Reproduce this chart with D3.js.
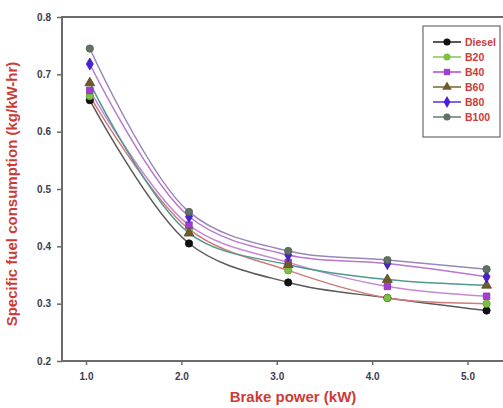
<!doctype html>
<html lang="en">
<head>
  <meta charset="utf-8">
  <title>Specific fuel consumption</title>
  <style>
    body { margin: 0; background: #fff; }
    text { font-family: "Liberation Sans", Arial, sans-serif; }
  </style>
</head>
<body>
  <div id="chart"></div>
  <script src="https://d3js.org/d3.v7.min.js"></script>
  <script>
    // Data ------------------------------------------------------------------
    const brakePower = [1.04, 2.08, 3.12, 4.16, 5.2];
    const seriesNames = ["Diesel", "B20", "B40", "B60", "B80", "B100"];
    const diesel = [0.655, 0.405, 0.337, 0.310, 0.288];
    const b20 = [0.662, 0.430, 0.358, 0.310, 0.300];
    const b40 = [0.672, 0.437, 0.372, 0.330, 0.313];
    const b60 = [0.685, 0.423, 0.368, 0.342, 0.332];
    const b80 = [0.718, 0.452, 0.385, 0.370, 0.347];
    const b100 = [0.745, 0.460, 0.392, 0.376, 0.360];
    const xTicks = [1.0, 2.0, 3.0, 4.0, 5.0];
    const yTicks = [0.2, 0.3, 0.4, 0.5, 0.6, 0.7, 0.8];

    const seriesValues = [diesel, b20, b40, b60, b80, b100];

    // Styles per series
    const markerColors = ["#111111", "#7cc142", "#a23fd0", "#6f5a2a", "#4a1fd6", "#5f7362"];
    const lineColors = ["#5a5a5a", "#d07a7a", "#c58ad6", "#4f9a8c", "#b878cc", "#9a86b8"];
    const symbols = [d3.symbolCircle, d3.symbolCircle, d3.symbolSquare,
                     d3.symbolTriangle, d3.symbolDiamond, d3.symbolCircle];

    // Layout ----------------------------------------------------------------
    const width = 503;
    const height = 408;
    const plotLeft = 62, plotTop = 17, plotBottom = 361;

    const svg = d3.select("#chart")
      .append("svg")
      .attr("width", width)
      .attr("height", height);

    const x = d3.scaleLinear().domain([1, 5]).range([86, 467.5]);
    const y = d3.scaleLinear().domain([0.2, 0.8]).range([plotBottom, plotTop]);

    // Frame -----------------------------------------------------------------
    svg.append("rect")
      .attr("x", plotLeft)
      .attr("y", plotTop)
      .attr("width", 450)
      .attr("height", plotBottom - plotTop)
      .attr("fill", "none")
      .attr("stroke", "#6b6b6b")
      .attr("stroke-width", 2);

    // Axes ------------------------------------------------------------------
    const yAxis = svg.append("g")
      .attr("transform", `translate(${plotLeft},0)`)
      .call(d3.axisLeft(y).tickValues(yTicks).tickFormat(d3.format(".1f")).tickSize(5).tickPadding(6));

    const xAxis = svg.append("g")
      .attr("transform", `translate(0,${plotBottom})`)
      .call(d3.axisBottom(x).tickValues(xTicks).tickFormat(d3.format(".1f")).tickSize(4).tickPadding(8));

    [xAxis, yAxis].forEach(ax => {
      ax.select(".domain").remove();
      ax.selectAll(".tick line").attr("stroke", "#6b6b6b").attr("stroke-width", 1.5);
      ax.selectAll(".tick text")
        .attr("fill", "#3b3b4e")
        .style("font-size", "10px")
        .style("font-weight", "bold");
    });

    // Axis titles -----------------------------------------------------------
    svg.append("text")
      .attr("transform", "translate(17,194) rotate(-90)")
      .attr("text-anchor", "middle")
      .attr("fill", "#cc3b36")
      .style("font-size", "15px")
      .style("font-weight", "bold")
      .text("Specific fuel consumption (kg/kW-hr)");

    svg.append("text")
      .attr("x", 293)
      .attr("y", 402)
      .attr("text-anchor", "middle")
      .attr("fill", "#cc3b36")
      .style("font-size", "15px")
      .style("font-weight", "bold")
      .text("Brake power (kW)");

    // Lines -----------------------------------------------------------------
    const line = d3.line()
      .x((d, i) => x(brakePower[i]))
      .y(d => y(d))
      .curve(d3.curveCatmullRom.alpha(0.5));

    seriesValues.forEach((vals, s) => {
      svg.append("path")
        .datum(vals)
        .attr("d", line)
        .attr("fill", "none")
        .attr("stroke", lineColors[s])
        .attr("stroke-width", 1.5);
    });

    // Markers ---------------------------------------------------------------
    const sym = d3.symbol().size(42);
    seriesValues.forEach((vals, s) => {
      svg.append("g")
        .selectAll("path")
        .data(vals)
        .join("path")
        .attr("transform", (d, i) => `translate(${x(brakePower[i])},${y(d)})`)
        .attr("d", sym.type(symbols[s])())
        .attr("fill", markerColors[s])
        .attr("stroke", d3.color(markerColors[s]).darker(0.6))
        .attr("stroke-width", 0.8);
    });

    // Legend ----------------------------------------------------------------
    const legend = svg.append("g");
    legend.append("rect")
      .attr("x", 423)
      .attr("y", 26)
      .attr("width", 77)
      .attr("height", 111)
      .attr("fill", "#fff")
      .attr("stroke", "#6b6b6b")
      .attr("stroke-width", 1.2);

    seriesNames.forEach((name, s) => {
      const ly = 42 + s * 15;
      legend.append("line")
        .attr("x1", 433).attr("x2", 461)
        .attr("y1", ly).attr("y2", ly)
        .attr("stroke", markerColors[s])
        .attr("stroke-width", 1.4);
      legend.append("path")
        .attr("transform", `translate(447,${ly})`)
        .attr("d", d3.symbol().size(40).type(symbols[s])())
        .attr("fill", markerColors[s]);
      legend.append("text")
        .attr("x", 465)
        .attr("y", ly + 4)
        .attr("fill", "#cc3b36")
        .style("font-size", "10.5px")
        .style("font-weight", "bold")
        .text(name);
    });
  </script>
</body>
</html>
